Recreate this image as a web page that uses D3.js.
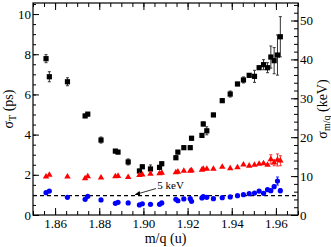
<!DOCTYPE html>
<html>
<head>
<meta charset="utf-8">
<script src="https://cdn.jsdelivr.net/npm/d3@7"></script>
<style>
  body { margin: 0; background: #fff; }
  svg { display: block; font-family: "Liberation Serif", "DejaVu Serif", serif; }
  .axis text { font-size: 13px; fill: #000; font-family: "Liberation Serif", serif; }
  .axis line { stroke: #000; }
</style>
</head>
<body>
<div id="chart"></div>
<script>
// m/q values shared by all three series
const massToCharge = [1.8559, 1.8574, 1.8656, 1.8736, 1.8748, 1.8808, 1.8873, 1.8885, 1.8931,
  1.8982, 1.8995, 1.9032, 1.9073, 1.9083, 1.9147, 1.9156, 1.9183, 1.9212, 1.9218, 1.9265,
  1.9271, 1.9287, 1.9317, 1.9357, 1.9393, 1.9426, 1.9453, 1.9479, 1.9503, 1.9524, 1.9544,
  1.9562, 1.9577, 1.9592, 1.9607, 1.9620];

// black squares: sigma_T (ps)
const sigmaT = [7.78, 6.88, 6.63, 4.93, 5.02, 3.73, 3.18, 3.13, 2.64, 2.19, 2.40, 2.29, 2.37,
  2.55, 2.85, 3.13, 3.35, 3.35, 3.82, 3.96, 4.53, 4.19, 4.98, 5.69, 6.02, 6.52, 6.72, 6.95,
  6.90, 7.33, 7.48, 7.33, 7.86, 7.68, 7.96, 8.87];
const sigmaTErr = [0.2, 0.25, 0.2, 0.08, 0.08, 0.15, 0.08, 0.08, 0.15, 0.08, 0.08, 0.2, 0.08,
  0.08, 0.08, 0.08, 0.08, 0.08, 0.08, 0.08, 0.1, 0.2, 0.08, 0.08, 0.15, 0.08, 0.15, 0.08,
  0.3, 0.08, 0.25, 0.25, 0.55, 0.65, 1.0, 1.0];

// red triangles (left scale units)
const redSeries = [1.91, 1.99, 1.91, 1.82, 1.92, 1.86, 1.92, 1.94, 1.88, 1.98, 2.01, 2.04, 2.07,
  2.10, 2.12, 2.15, 2.19, 2.19, 2.22, 2.25, 2.29, 2.29, 2.29, 2.39, 2.32, 2.37, 2.50, 2.45,
  2.49, 2.54, 2.57, 2.49, 2.77, 2.60, 2.74, 2.70];
const redErr = [0, 0, 0, 0, 0, 0, 0, 0, 0, 0, 0, 0, 0, 0, 0, 0, 0, 0, 0, 0, 0, 0, 0, 0, 0, 0,
  0, 0, 0, 0, 0, 0, 0.23, 0.15, 0.3, 0.25];

// blue circles (left scale units)
const blueSeries = [1.11, 1.19, 0.88, 0.78, 0.93, 0.75, 0.58, 0.63, 0.60, 0.50, 0.56, 0.53, 0.53,
  0.60, 0.78, 0.71, 0.80, 0.81, 0.68, 0.85, 0.91, 0.88, 0.81, 0.86, 0.90, 0.96, 1.01, 1.06,
  1.09, 1.19, 1.08, 1.26, 1.21, 1.41, 1.69, 1.21];
const blueErr = [0, 0, 0, 0, 0, 0, 0, 0, 0, 0, 0, 0, 0, 0, 0, 0, 0, 0, 0, 0, 0, 0, 0, 0, 0, 0,
  0, 0, 0, 0, 0, 0, 0, 0.08, 0.2, 0.1];

const xTicks = [1.86, 1.88, 1.90, 1.92, 1.94, 1.96];
const yLeftTicks = [0, 2, 4, 6, 8, 10];
const yRightTicks = [0, 10, 20, 30, 40, 50];
const thresholdKeV = 5;

const margin = { top: 3, right: 33, bottom: 32, left: 33 };
const width = 331 - margin.left - margin.right;
const height = 247 - margin.top - margin.bottom;

const x = d3.scaleLinear().domain([1.85, 1.97]).range([0, width]);
const y = d3.scaleLinear().domain([0, 10.55]).range([height, 0]);
const yR = d3.scaleLinear().domain([0, 54.5]).range([height, 0]);

const svg = d3.select("#chart")
  .append("svg")
  .attr("width", 331)
  .attr("height", 247);

const g = svg.append("g")
  .attr("transform", `translate(${margin.left},${margin.top})`);

// minor ticks
g.append("g").attr("class", "axis")
  .attr("transform", `translate(0,${height})`)
  .call(d3.axisBottom(x).tickValues(d3.range(1.85, 1.9701, 0.005)).tickSize(-4).tickSizeOuter(0).tickFormat(""))
  .call((a) => a.select(".domain").remove());
g.append("g").attr("class", "axis")
  .call(d3.axisTop(x).tickValues(d3.range(1.85, 1.9701, 0.005)).tickSize(-4).tickSizeOuter(0).tickFormat(""))
  .call((a) => a.select(".domain").remove());
g.append("g").attr("class", "axis")
  .call(d3.axisLeft(y).tickValues(d3.range(0, 10.51, 0.5)).tickSize(-3).tickSizeOuter(0).tickFormat(""))
  .call((a) => a.select(".domain").remove());
g.append("g").attr("class", "axis")
  .attr("transform", `translate(${width},0)`)
  .call(d3.axisRight(yR).tickValues(d3.range(0, 54.1, 2)).tickSize(-4).tickSizeOuter(0).tickFormat(""))
  .call((a) => a.select(".domain").remove());

// major ticks
g.append("g").attr("class", "axis")
  .attr("transform", `translate(0,${height})`)
  .call(d3.axisBottom(x).tickValues(xTicks).tickSize(-7).tickSizeOuter(0).tickPadding(4).tickFormat(d3.format(".2f")))
  .call((a) => a.select(".domain").remove());
g.append("g").attr("class", "axis")
  .call(d3.axisTop(x).tickValues(xTicks).tickSize(-7).tickSizeOuter(0).tickFormat(""))
  .call((a) => a.select(".domain").remove());
g.append("g").attr("class", "axis")
  .call(d3.axisLeft(y).tickValues(yLeftTicks).tickSize(-6).tickSizeOuter(0).tickPadding(2))
  .call((a) => a.select(".domain").remove());
g.append("g").attr("class", "axis")
  .attr("transform", `translate(${width},0)`)
  .call(d3.axisRight(yR).tickValues(yRightTicks).tickSize(-7).tickSizeOuter(0).tickPadding(2))
  .call((a) => a.select(".domain").remove());

// frame
g.append("rect")
  .attr("width", width)
  .attr("height", height)
  .attr("fill", "none")
  .attr("stroke", "#000")
  .attr("stroke-width", 1.2);

// 5 keV reference line
g.append("line")
  .attr("x1", 0)
  .attr("x2", width)
  .attr("y1", yR(thresholdKeV))
  .attr("y2", yR(thresholdKeV))
  .attr("stroke", "#000")
  .attr("stroke-width", 1.2)
  .attr("stroke-dasharray", "4,3");

svg.append("defs").append("marker")
  .attr("id", "arrow")
  .attr("viewBox", "0 0 10 10")
  .attr("refX", 9)
  .attr("refY", 5)
  .attr("markerWidth", 7)
  .attr("markerHeight", 7)
  .attr("orient", "auto")
  .append("path")
  .attr("d", "M0,1L10,5L0,9Z")
  .attr("fill", "#000");

g.append("line")
  .attr("x1", x(1.9057))
  .attr("y1", yR(thresholdKeV) - 7)
  .attr("x2", x(1.8963))
  .attr("y2", yR(thresholdKeV) - 1)
  .attr("stroke", "#000")
  .attr("stroke-width", 0.8)
  .attr("marker-end", "url(#arrow)");

g.append("text")
  .attr("x", x(1.9063))
  .attr("y", yR(thresholdKeV) - 7)
  .attr("font-size", 11)
  .text("5 keV");

function errorBars(values, errs, color) {
  const rows = massToCharge.map((m, i) => ({ m, v: values[i], e: errs[i] })).filter((d) => d.e > 0);
  const eb = g.append("g").attr("stroke", color).attr("stroke-width", 1);
  eb.selectAll("line.v").data(rows).join("line")
    .attr("class", "v")
    .attr("x1", (d) => x(d.m)).attr("x2", (d) => x(d.m))
    .attr("y1", (d) => y(d.v - d.e)).attr("y2", (d) => y(d.v + d.e));
  eb.selectAll("line.t").data(rows).join("line")
    .attr("class", "t")
    .attr("x1", (d) => x(d.m) - 1.5).attr("x2", (d) => x(d.m) + 1.5)
    .attr("y1", (d) => y(d.v + d.e)).attr("y2", (d) => y(d.v + d.e));
  eb.selectAll("line.b").data(rows).join("line")
    .attr("class", "b")
    .attr("x1", (d) => x(d.m) - 1.5).attr("x2", (d) => x(d.m) + 1.5)
    .attr("y1", (d) => y(d.v - d.e)).attr("y2", (d) => y(d.v - d.e));
}

errorBars(sigmaT, sigmaTErr, "#333");
errorBars(redSeries, redErr, "#ff3030");
errorBars(blueSeries, blueErr, "#2020ff");

g.append("g").selectAll("rect")
  .data(sigmaT)
  .join("rect")
  .attr("x", (d, i) => x(massToCharge[i]) - 2.6)
  .attr("y", (d) => y(d) - 2.6)
  .attr("width", 5.2)
  .attr("height", 5.2)
  .attr("fill", "#000");

g.append("g").selectAll("path")
  .data(redSeries)
  .join("path")
  .attr("transform", (d, i) => `translate(${x(massToCharge[i])},${y(d)})`)
  .attr("d", d3.symbol(d3.symbolTriangle, 18))
  .attr("fill", "#ff0000");

g.append("g").selectAll("circle")
  .data(blueSeries)
  .join("circle")
  .attr("cx", (d, i) => x(massToCharge[i]))
  .attr("cy", (d) => y(d))
  .attr("r", 2.6)
  .attr("fill", "#0000ff");

// axis titles
svg.append("text")
  .attr("x", margin.left + width / 2)
  .attr("y", 243)
  .attr("text-anchor", "middle")
  .attr("font-size", 14)
  .text("m/q (u)");

const leftTitle = svg.append("text")
  .attr("transform", `translate(13,${margin.top + height / 2}) rotate(-90)`)
  .attr("text-anchor", "middle")
  .attr("font-size", 14);
leftTitle.append("tspan").text("σ");
leftTitle.append("tspan").attr("font-size", 10).attr("dy", 3).text("T");
leftTitle.append("tspan").attr("dy", -3).text(" (ps)");

const rightTitle = svg.append("text")
  .attr("transform", `translate(327,${margin.top + height / 2}) rotate(-90)`)
  .attr("text-anchor", "middle")
  .attr("font-size", 14);
rightTitle.append("tspan").text("σ");
rightTitle.append("tspan").attr("font-size", 10).attr("dy", 3).text("m/q");
rightTitle.append("tspan").attr("dy", -3).text(" (keV)");
</script>
</body>
</html>
